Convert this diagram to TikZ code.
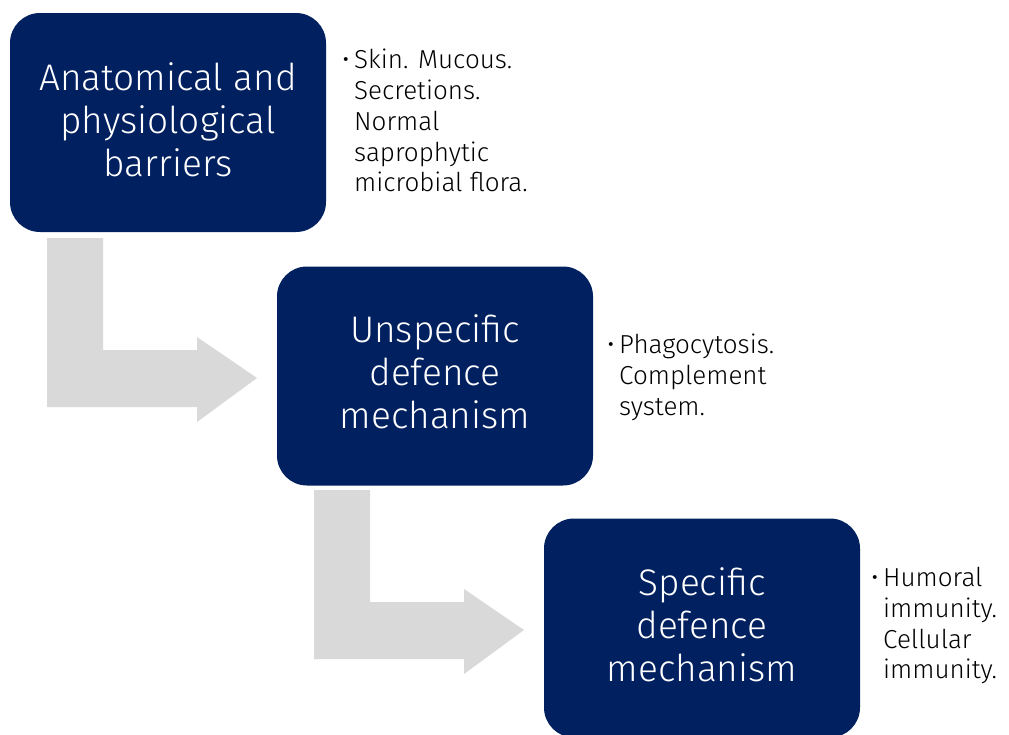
\documentclass[tikz,border=0pt]{standalone}
\usepackage{fontspec}
\setmainfont{Fira Sans}[UprightFont=* Light]
\definecolor{navy}{RGB}{0,32,96}
\definecolor{arrowgray}{RGB}{217,217,217}
\newcommand{\bul}{\makebox[12pt][l]{•}}
\newcommand{\nobul}{\hspace*{12pt}}
\tikzset{
  stagebox/.style={draw=none, fill=navy, rounded corners=30pt, minimum width=316pt, minimum height=219pt, inner sep=0pt},
  stagetext/.style={text=white, align=center, font=\fontsize{37}{43}\selectfont},
  sidenote/.style={anchor=north west, inner sep=0pt, align=left, text=black, font=\fontsize{26}{30.8}\selectfont},
  bentarrow/.style={fill=arrowgray, draw=none}
}
\newcommand{\bentshape}{(0,0) -- (56,0) -- (56,112) -- (150,112) -- (150,99) -- (210,140) -- (150,184) -- (150,169) -- (0,169) -- cycle}
\begin{document}
\begin{tikzpicture}[x=1pt,y=-1pt]
\useasboundingbox (0,0) rectangle (1009,734);
% bent arrows
\begin{scope}[shift={(47,238)}]
  \fill[bentarrow] \bentshape;
\end{scope}
\begin{scope}[shift={(314,490)}]
  \fill[bentarrow] \bentshape;
\end{scope}
% boxes
\node[stagebox] (b1) at (168,122.5) {};
\node[stagebox] (b2) at (435,376) {};
\node[stagebox] (b3) at (702,628) {};
\node[stagetext] (t1) at (168,120) {Anatomical and\\physiological\\barriers};
\node[stagetext] (t2) at (435,372) {Unspecific\\defence\\mechanism};
\node[stagetext] (t3) at (702,625) {Specific\\defence\\mechanism};
% notes
\node[sidenote] (n1) at (342,49) {\bul Skin. Mucous.\\\nobul Secretions.\\\nobul Normal\\\nobul saprophytic\\\nobul microbial flora.};
\node[sidenote] (n2) at (607,334) {\bul Phagocytosis.\\\nobul Complement\\\nobul system.};
\node[sidenote] (n3) at (871,567) {\bul Humoral\\\nobul immunity.\\\nobul Cellular\\\nobul immunity.};
\end{tikzpicture}
\end{document}
